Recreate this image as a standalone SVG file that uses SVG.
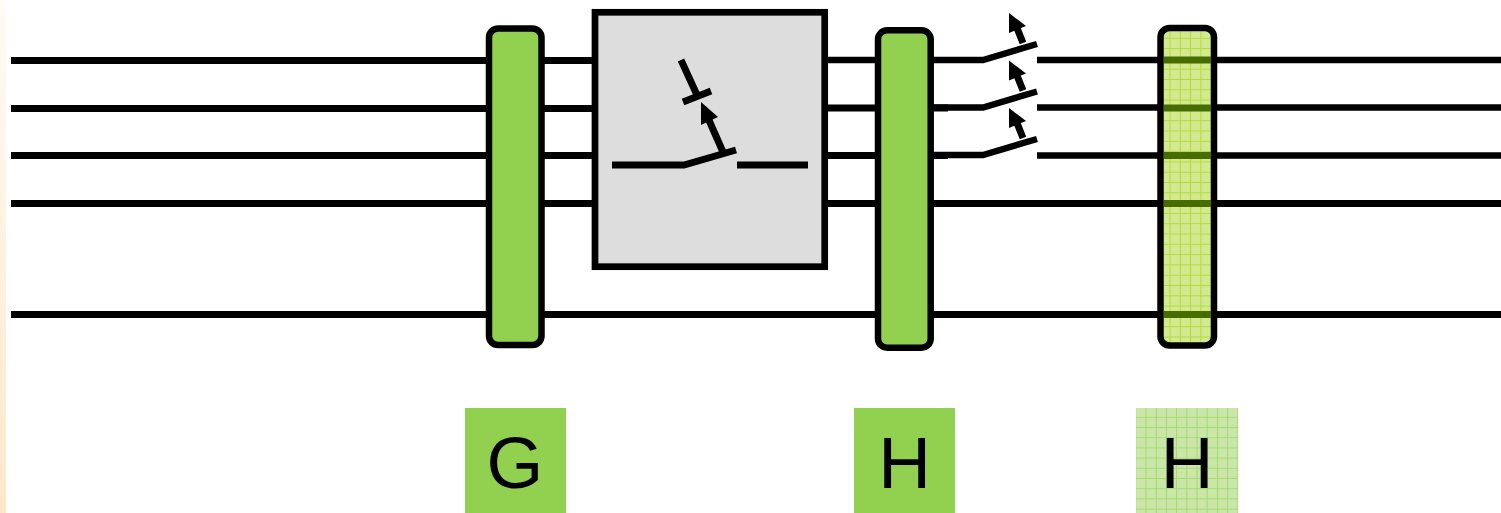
<svg xmlns="http://www.w3.org/2000/svg" width="1501" height="513" viewBox="0 0 1501 513">
<style>
.w{stroke:#000;stroke-width:7;fill:none}
.n{stroke:#000;stroke-width:6.500;fill:none}
.t{stroke:#000;stroke-width:7;fill:none}
.g{fill:#92d050;stroke:#000;stroke-width:6.500}
.l{font-family:"Liberation Sans",Arial,sans-serif;font-size:73px;fill:#000;text-anchor:middle}
</style>
<defs>
<linearGradient id="s" x1="0" y1="0" x2="0" y2="1"><stop offset="0" stop-color="#fffbf5"/><stop offset="1" stop-color="#ffe8cb"/></linearGradient>
<pattern id="p1" width="10.3" height="10.3" patternUnits="userSpaceOnUse" x="1164.850" y="33.150"><rect width="10.3" height="10.3" fill="#d3e98f"/><path d="M5.150 0V10.3M0 5.150H10.3" stroke="#b2da3a" stroke-width="1"/></pattern>
<pattern id="p2" width="10.2" height="10.2" patternUnits="userSpaceOnUse" x="1140.900" y="412.200"><rect width="10.2" height="10.2" fill="#cbe7a8"/><path d="M5.100 0V10.2M0 5.100H10.2" stroke="#a3da73" stroke-width="1"/></pattern>
<g id="arrow"><path d="M1023 43L1015 23" class="t"/><path d="M1009 13L1026 26L1009 33Z" fill="#000"/></g>
</defs>
<rect x="0" y="0" width="6" height="513" fill="url(#s)"/>
<g id="connectors">
<path class="w" d="M11 60.500H594M11 108.500H594M11 155.500H594M11 203.500H594M11 314.500H1501"/>
<path class="n" d="M827 60H983L1037 44"/>
<path class="w" d="M827 108H948"/><path class="n" d="M932 107.500H983L1037 91.500"/>
<path class="w" d="M827 155.500H948"/><path class="n" d="M932 155H983L1037 139"/>
<path class="w" d="M827 203.500H1501"/>
<path class="n" d="M1037 60H1501M1037 107.500H1501M1037 155.500H1501"/>
<use href="#arrow"/><use href="#arrow" y="47.500"/><use href="#arrow" y="95"/>
</g>
<g id="node-g1"><rect class="g" x="489" y="28.500" width="52.500" height="316.500" rx="9"/></g>
<g id="node-box"><rect x="595" y="12.300" width="229.700" height="254.400" fill="#dddddd" stroke="#000" stroke-width="6.700"/>
<path class="w" d="M612 165H684L736 150M737 165H808"/>
<path class="t" d="M723 152L708 118"/><path d="M701 102L718 117L701 125Z" fill="#000"/>
<path class="t" d="M681 60L697 95M683 102L711 91"/></g>
<g id="node-h1"><rect class="g" x="878" y="30.300" width="52.700" height="317.400" rx="9"/></g>
<g id="node-h2"><rect x="1160.500" y="28" width="53.500" height="317.500" rx="9" fill="url(#p1)" stroke="#000" stroke-width="6.500"/>
<path d="M1164 60H1211M1164 108H1211M1164 155.500H1211M1164 203.500H1211M1164 314.500H1211" stroke="#476c00" stroke-width="7"/></g>
<g id="label-g"><rect x="465" y="408" width="101" height="105" fill="#92d050"/><text class="l" x="515" y="488">G</text></g>
<g id="label-h1"><rect x="854" y="408" width="101" height="105" fill="#92d050"/><text class="l" x="904.500" y="488">H</text></g>
<g id="label-h2"><rect x="1136" y="408" width="102" height="105" fill="url(#p2)"/><text class="l" x="1187" y="488">H</text></g>
</svg>
